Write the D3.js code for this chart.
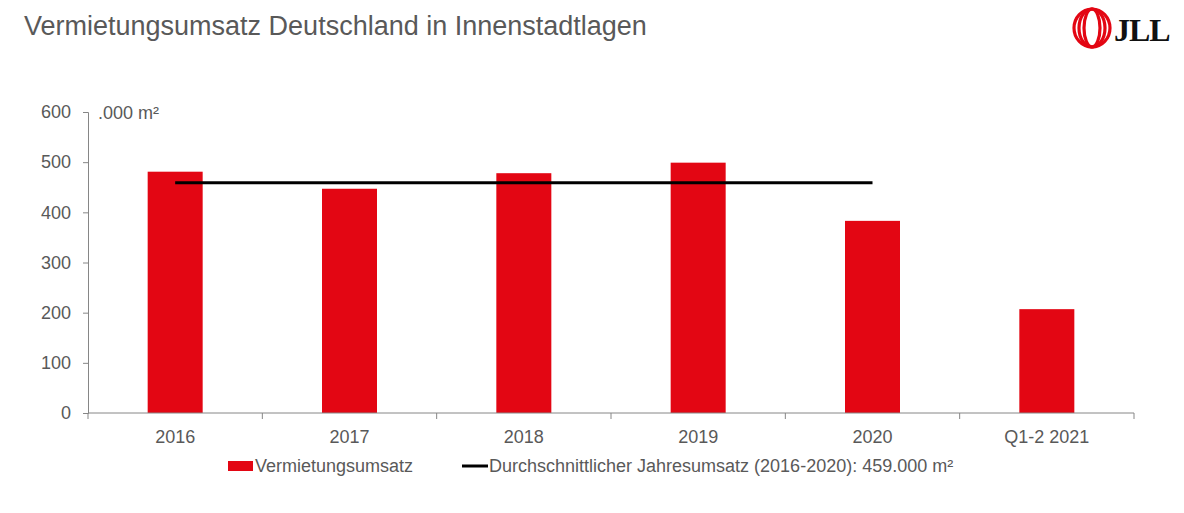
<!DOCTYPE html>
<html>
<head>
<meta charset="utf-8">
<script src="https://cdn.jsdelivr.net/npm/d3@7"></script>
<style>
  body { margin: 0; background: #fff; }
  svg { display: block; font-family: "Liberation Sans", Arial, sans-serif; }
</style>
</head>
<body>
<div id="chart"></div>
<script>
const width = 1184;
const height = 513;

const categories = ["2016", "2017", "2018", "2019", "2020", "Q1-2 2021"];
const umsatz = [481, 447, 478, 499, 383, 207];
const average = 459;
const averageYears = ["2016", "2017", "2018", "2019", "2020"];
const yTicks = [0, 100, 200, 300, 400, 500, 600];

const red = "#e30613";
const grey = "#595959";
const fontSize = 18;

const de = d3.formatLocale({ decimal: ",", thousands: ".", grouping: [3], currency: ["", " €"] });

const svg = d3.select("#chart")
  .append("svg")
  .attr("width", width)
  .attr("height", height);

// title
svg.append("text")
  .attr("x", 24)
  .attr("y", 35)
  .attr("font-size", 27)
  .attr("fill", grey)
  .text("Vermietungsumsatz Deutschland in Innenstadtlagen");

// JLL logo
const logo = svg.append("g").attr("transform", "translate(1092, 28)");
[18, 13, 8].forEach(rx => {
  logo.append("ellipse")
    .attr("rx", rx).attr("ry", 19)
    .attr("fill", "none").attr("stroke", red).attr("stroke-width", 3.2);
});
svg.append("text")
  .attr("x", 1114)
  .attr("y", 41)
  .attr("font-family", "Liberation Serif, serif")
  .attr("font-weight", "bold")
  .attr("font-size", 32)
  .attr("letter-spacing", -1)
  .attr("fill", "#111")
  .text("JLL");

// scales
const x = d3.scaleBand()
  .domain(categories)
  .range([88, 1134])
  .paddingInner(0)
  .paddingOuter(0);

const y = d3.scaleLinear()
  .domain([0, 600])
  .range([413, 112]);

// y axis
const yAxis = d3.axisLeft(y).tickValues(yTicks).tickSize(5).tickPadding(12);
const gy = svg.append("g")
  .attr("transform", "translate(88,0)")
  .call(yAxis);
gy.selectAll("path, line").attr("stroke", "#868686");
gy.selectAll("text").attr("font-size", fontSize).attr("fill", grey).attr("font-family", "Liberation Sans, Arial, sans-serif");

svg.append("text")
  .attr("x", 98)
  .attr("y", 119)
  .attr("font-size", fontSize)
  .attr("fill", grey)
  .text(".000 m²");

// bars
const barWidth = 55;
svg.selectAll("rect.bar")
  .data(umsatz)
  .enter()
  .append("rect")
  .attr("class", "bar")
  .attr("x", (d, i) => x(categories[i]) + x.bandwidth() / 2 - barWidth / 2)
  .attr("y", d => y(d))
  .attr("width", barWidth)
  .attr("height", d => y(0) - y(d))
  .attr("fill", red);

// x axis with ticks at band boundaries
const gx = svg.append("g")
  .attr("transform", "translate(0,413)");
gx.append("line")
  .attr("x1", x.range()[0]).attr("x2", x.range()[1])
  .attr("stroke", "#868686");
gx.selectAll("line.tick")
  .data(categories.concat([null]))
  .enter()
  .append("line")
  .attr("x1", (d, i) => x.range()[0] + i * x.step())
  .attr("x2", (d, i) => x.range()[0] + i * x.step())
  .attr("y1", 0).attr("y2", 6)
  .attr("stroke", "#868686");
gx.selectAll("text")
  .data(categories)
  .enter()
  .append("text")
  .attr("x", d => x(d) + x.bandwidth() / 2)
  .attr("y", 30)
  .attr("text-anchor", "middle")
  .attr("font-size", fontSize)
  .attr("fill", grey)
  .text(d => d);

// average line
const first = averageYears[0];
const last = averageYears[averageYears.length - 1];
svg.append("line")
  .attr("x1", x(first) + x.bandwidth() / 2)
  .attr("x2", x(last) + x.bandwidth() / 2)
  .attr("y1", y(average))
  .attr("y2", y(average))
  .attr("stroke", "#000")
  .attr("stroke-width", 3);

// legend
const legend = svg.append("g");
legend.append("rect")
  .attr("x", 228).attr("y", 461)
  .attr("width", 25).attr("height", 10)
  .attr("fill", red);
legend.append("text")
  .attr("x", 255).attr("y", 472)
  .attr("font-size", fontSize).attr("fill", grey)
  .text("Vermietungsumsatz");
legend.append("line")
  .attr("x1", 462).attr("x2", 488)
  .attr("y1", 466).attr("y2", 466)
  .attr("stroke", "#000").attr("stroke-width", 3);
legend.append("text")
  .attr("x", 489).attr("y", 472)
  .attr("font-size", fontSize).attr("fill", grey)
  .text(`Durchschnittlicher Jahresumsatz (2016-2020): ${de.format(",")(average * 1000)} m²`);
</script>
</body>
</html>
